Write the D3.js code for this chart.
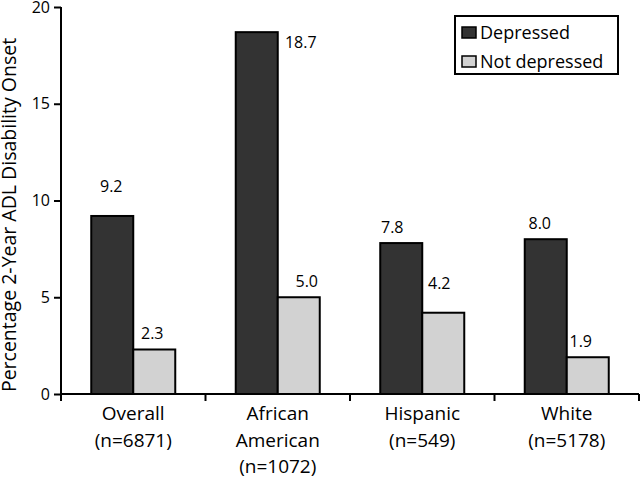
<!DOCTYPE html>
<html>
<head>
<meta charset="utf-8">
<script src="https://cdn.jsdelivr.net/npm/d3@7"></script>
<style>
  html, body { margin: 0; padding: 0; background: #fff; }
  svg { display: block; font-family: "Open Sans", "Noto Sans", sans-serif; }
</style>
</head>
<body>
<svg id="chart" width="640" height="479"></svg>
<script>
// ---- data ----
const categories = ["Overall", "African American", "Hispanic", "White"];
const categoryLines = [
  ["Overall", "(n=6871)"],
  ["African", "American", "(n=1072)"],
  ["Hispanic", "(n=549)"],
  ["White", "(n=5178)"]
];
const seriesNames = ["Depressed", "Not depressed"];
const depressed = [9.2, 18.7, 7.8, 8.0];
const notDepressed = [2.3, 5.0, 4.2, 1.9];
const yTicks = [0, 5, 10, 15, 20];
const yTitle = "Percentage 2-Year ADL Disability Onset";

// label nudges [dx, dy] relative to default position (centre of bar, above top)
const labelNudgeDep = [[-1, -14], [44, 26], [-9, 0], [-6, 0]];
const labelNudgeNot = [[-2, 0], [8, 0], [-4, -14], [-7, 0]];

(function () {
// ---- layout ----
const svg = d3.select("#chart");
const mLeft = 61, mRight = 639, mTop = 7, mBottom = 394;
const colors = ["#333333", "#d2d2d2"];

const x = d3.scaleBand().domain(categories).range([mLeft, mRight]).paddingInner(0).paddingOuter(0);
const x1 = d3.scaleBand().domain(seriesNames).range([0, x.bandwidth()]).paddingInner(0).paddingOuter(0.72);
const y = d3.scaleLinear().domain([0, 20]).range([mBottom, mTop]);

const rows = categories.map((c, i) => ({
  cat: c, i,
  vals: [
    { s: seriesNames[0], v: depressed[i], nudge: labelNudgeDep[i] },
    { s: seriesNames[1], v: notDepressed[i], nudge: labelNudgeNot[i] }
  ]
}));

// bars
const g = svg.append("g");
const grp = g.selectAll("g.grp").data(rows).join("g")
  .attr("class", "grp")
  .attr("transform", d => `translate(${x(d.cat)},0)`);

grp.selectAll("rect").data(d => d.vals).join("rect")
  .attr("x", d => x1(d.s))
  .attr("y", d => y(d.v))
  .attr("width", x1.bandwidth())
  .attr("height", d => y(0) - y(d.v))
  .attr("fill", d => colors[seriesNames.indexOf(d.s)])
  .attr("stroke", "#000")
  .attr("stroke-width", 2);

grp.selectAll("text.val").data(d => d.vals).join("text")
  .attr("class", "val")
  .attr("x", d => x1(d.s) + x1.bandwidth() / 2 + d.nudge[0])
  .attr("y", d => y(d.v) - 10 + d.nudge[1])
  .attr("text-anchor", "middle")
  .attr("font-size", 16)
  .attr("fill", "#000")
  .text(d => d.v.toFixed(1));

// y axis
const yAxis = d3.axisLeft(y).tickValues(yTicks).tickSize(7).tickPadding(4).tickFormat(d3.format("d"));
const ya = svg.append("g").attr("transform", `translate(${mLeft},0)`).call(yAxis);
ya.select(".domain").attr("stroke", "#000").attr("stroke-width", 2).attr("d", `M0,${mTop}V${mBottom}`);
ya.selectAll(".tick line").attr("stroke", "#000").attr("stroke-width", 2);
ya.selectAll(".tick text").attr("font-size", 16).attr("fill", "#000")
  .attr("font-family", "'Open Sans', sans-serif");

// x axis
const xa = svg.append("g");
xa.append("line").attr("x1", mLeft - 1).attr("x2", mRight).attr("y1", mBottom).attr("y2", mBottom)
  .attr("stroke", "#000").attr("stroke-width", 2);
const bounds = categories.map(c => x(c)).concat([x.range()[1]]);
xa.selectAll("line.tk").data(bounds).join("line")
  .attr("class", "tk")
  .attr("x1", d => d).attr("x2", d => d)
  .attr("y1", mBottom).attr("y2", mBottom + 7)
  .attr("stroke", "#000").attr("stroke-width", 2);

const lab = xa.selectAll("text.cat").data(rows).join("text")
  .attr("class", "cat")
  .attr("text-anchor", "middle")
  .attr("font-size", 19)
  .attr("fill", "#000");
lab.selectAll("tspan").data(d => categoryLines[d.i].map(t => ({ t, c: d.cat }))).join("tspan")
  .attr("x", d => x(d.c) + x.bandwidth() / 2)
  .attr("y", (d, k) => 420 + k * 26.5)
  .text(d => d.t);

// y title
svg.append("text")
  .attr("transform", `translate(16,${(32 + 398) / 2}) rotate(-90)`)
  .attr("text-anchor", "middle")
  .attr("font-size", 19.5)
  .attr("fill", "#000")
  .text(yTitle);

// legend
const lg = svg.append("g");
lg.append("rect").attr("x", 455).attr("y", 16).attr("width", 163).attr("height", 58)
  .attr("fill", "#fff").attr("stroke", "#000").attr("stroke-width", 2);
const li = lg.selectAll("g.li").data(seriesNames).join("g")
  .attr("class", "li")
  .attr("transform", (d, k) => `translate(462,${27 + k * 29})`);
li.append("rect").attr("width", 14).attr("height", 11)
  .attr("fill", (d, k) => colors[k]).attr("stroke", "#000").attr("stroke-width", 1.5);
li.append("text").attr("x", 18).attr("y", 11.5)
  .attr("font-size", 18).attr("fill", "#000").text(d => d);
})();
</script>
</body>
</html>
